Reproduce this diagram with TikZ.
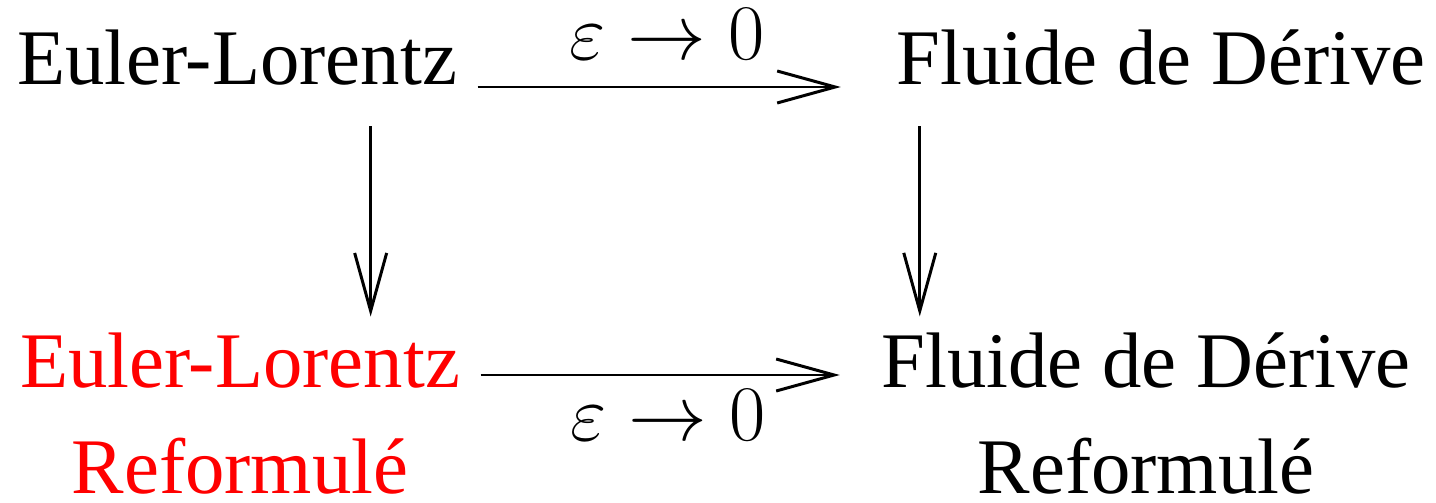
\RequirePackage{fix-cm}
\documentclass[tikz,border=0pt]{standalone}
\usepackage{amsmath,amssymb}
\usepackage{fontspec}
\setmainfont{Liberation Serif}
\usepackage{xcolor}
\usepackage{tikz}
\usetikzlibrary{arrows.meta,positioning,calc}
\tikzset{
  cdtext/.style={inner sep=0pt, anchor=base, align=center, font=\fontsize{22.4}{29.9}\selectfont},
  cdred/.style={cdtext, text=red},
  cdlabel/.style={inner sep=0pt, font=\fontsize{22.4}{29.9}\selectfont},
  cdarrow/.style={-{Straight Barb[length=5.8mm, width=3.2mm, line width=0.85pt]}, line width=0.85pt}
}

\begin{document}
\begin{tikzpicture}
\useasboundingbox (0,0) rectangle (14.36,5.02);
\node[cdtext] (el) at (2.37,4.17) {Euler-Lorentz};
\node[cdtext] (fd) at (11.61,4.17) {Fluide de Dérive};
% base of a two-line node = base of its last line
\node[cdred] (elr) at (2.40,0.09) {Euler-Lorentz\\Reformulé};
\node[cdtext] (fdr) at (11.46,0.09) {Fluide de Dérive\\Reformulé};
\draw[cdarrow, shorten <=2mm, shorten >=5.5mm] ([yshift=-0.2mm]el.base east) -- ([yshift=-0.2mm]el.base east -| fd.west)
  node[cdlabel, pos=0.478, above=2.6mm] (toplim) {$\varepsilon\to 0$};
\draw[cdarrow, shorten <=2mm, shorten >=4.1mm] ([yshift=11.8mm]elr.base east) -- ([yshift=11.8mm]elr.base east -| fdr.west)
  node[cdlabel, pos=0.494, below=1.3mm] (botlim) {$\varepsilon\to 0$};
\draw[cdarrow, shorten <=4mm] ([xshift=-8.7mm]el.south east) -- ([xshift=-8.7mm,yshift=1.6mm]el.south east |- elr.north);
\draw[cdarrow, shorten <=4mm] ([xshift=2.4mm]fd.south west) -- ([xshift=2.4mm,yshift=1.6mm]fd.south west |- fdr.north);
\end{tikzpicture}
\end{document}
